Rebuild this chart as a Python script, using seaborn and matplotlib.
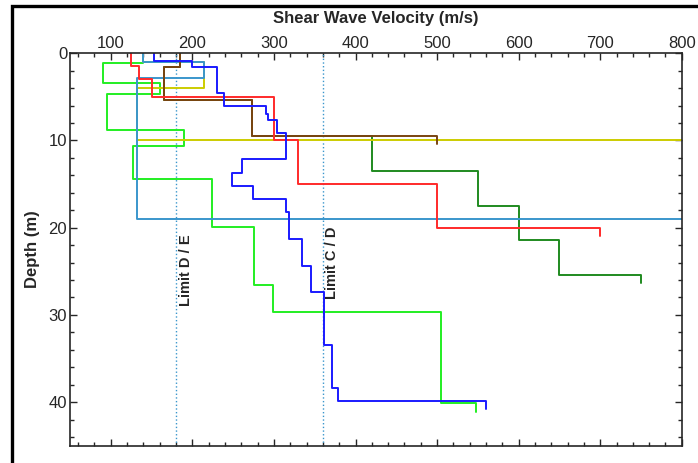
import numpy as np
import pandas as pd
import matplotlib
matplotlib.use("Agg")
import matplotlib.pyplot as plt
import seaborn as sns
from matplotlib.patches import Rectangle
from matplotlib.ticker import MultipleLocator

# -----------------------------
# Shear wave velocity profiles (velocity per layer, layer boundary depths)
# -----------------------------
green_v = [140, 90, 160, 95, 190, 127, 224, 275, 299, 505, 548]
green_d = [0, 1.1, 3.4, 4.65, 8.85, 10.6, 14.4, 19.9, 26.6, 29.65, 40.1, 41.1]

dkgreen_v = [185, 165, 273, 420, 550, 600, 650, 750]
dkgreen_d = [0, 1.6, 5.4, 9.45, 13.45, 17.5, 21.4, 25.4, 26.4]

brown_v = [185, 165, 273, 500]
brown_d = [0, 1.6, 5.4, 9.45, 10.4]

yellow_v = [140, 214, 132, 820]
yellow_d = [0, 1.0, 4.0, 10.0, 11.0]

lblue_v = [140, 214, 132, 820]
lblue_d = [0, 1.0, 2.8, 19.0, 20.0]

red_v = [125, 135, 150, 300, 330, 500, 700]
red_d = [0, 1.5, 3.0, 5.0, 10.0, 15.0, 20.0, 21.0]

blue_v = [153, 199, 230, 239, 290, 293, 304, 315, 261, 249, 274, 315, 319,
          335, 345, 361, 371, 379, 560]
blue_d = [0, 0.85, 1.57, 4.5, 6.1, 6.95, 7.6, 9.1, 12.1, 13.75, 15.25, 16.7,
          18.25, 21.3, 24.35, 27.4, 33.5, 38.35, 39.9, 40.8]

# site class limits (m/s)
limits = {"Limit D / E": 180, "Limit C / D": 360}

profiles = {
    "dkgreen": (dkgreen_v, dkgreen_d),
    "green": (green_v, green_d),
    "yellow": (yellow_v, yellow_d),
    "lblue": (lblue_v, lblue_d),
    "brown": (brown_v, brown_d),
    "red": (red_v, red_d),
    "blue": (blue_v, blue_d),
}
colors = {
    "dkgreen": "#1f8a1f",
    "green": "#22ee22",
    "yellow": "#cccc00",
    "lblue": "#3a96cc",
    "brown": "#7a4410",
    "red": "#ff2a2a",
    "blue": "#1a1aff",
}

# turn layer tables into step-profile vertices
rows = []
for name, (vel, dep) in profiles.items():
    k = 0
    for i, v in enumerate(vel):
        rows.append((name, k, v, dep[i]))
        rows.append((name, k + 1, v, dep[i + 1]))
        k += 2
df = pd.DataFrame(rows, columns=["profile", "order", "velocity", "depth"])

# -----------------------------
# Plot
# -----------------------------
sns.set_style("ticks")
plt.rcParams["font.family"] = ["Liberation Sans", "DejaVu Sans"]

fig = plt.figure(figsize=(6.98, 4.63), dpi=100)
ax = fig.add_axes([0.1003, 0.0374, 0.8765, 0.8475])

sns.lineplot(data=df, x="velocity", y="depth", hue="profile", palette=colors,
             hue_order=list(profiles.keys()), sort=False, estimator=None,
             units="profile", linewidth=1.4, legend=False, ax=ax)

for label, val in limits.items():
    ax.axvline(val, color="#3a96cc", linestyle=":", linewidth=1.0, zorder=1)
    ax.text(val + 3, 29.0 if "E" in label else 28.2, label, rotation=90,
            ha="left", va="bottom", fontsize=10.5, fontweight="bold")

ax.set_xlim(50, 800)
ax.set_ylim(45, 0)
ax.xaxis.set_major_locator(MultipleLocator(100))
ax.xaxis.set_minor_locator(MultipleLocator(20))
ax.yaxis.set_major_locator(MultipleLocator(10))
ax.yaxis.set_minor_locator(MultipleLocator(2))
ax.set_xticks([100, 200, 300, 400, 500, 600, 700, 800])
ax.xaxis.tick_top()
ax.xaxis.set_label_position("top")
ax.tick_params(which="both", direction="in", top=True, bottom=True,
               left=True, right=True, labelsize=12, pad=2, width=1)
ax.tick_params(which="major", length=5)
ax.tick_params(which="minor", length=3)
for s in ax.spines.values():
    s.set_linewidth(1.2)

ax.set_xlabel("Shear Wave Velocity (m/s)", fontsize=12, fontweight="bold",
              labelpad=9)
ax.set_ylabel("Depth (m)", fontsize=12, fontweight="bold", labelpad=6)

# outer frame of the figure
fig.patches.append(Rectangle((0.0168, -0.2), 1.2, 0.2 + 0.987, fill=False,
                             edgecolor="black", linewidth=2.4,
                             transform=fig.transFigure, figure=fig))

fig.savefig("out.png", dpi=100)
